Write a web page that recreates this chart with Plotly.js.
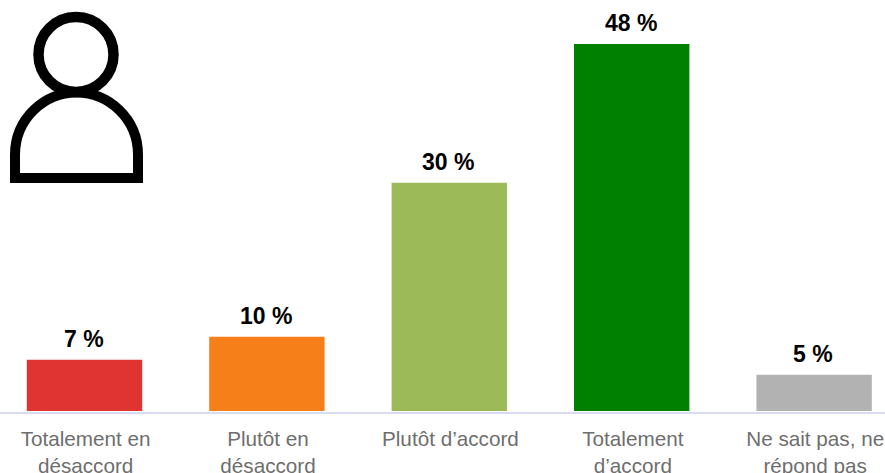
<!DOCTYPE html>
<html><head><meta charset="utf-8">
<script src="https://cdn.plot.ly/plotly-3.0.1.min.js"></script>
<style>html,body{margin:0;padding:0;background:#fff;overflow:hidden}#c{width:885px;height:473px}</style>
</head><body><div id="c"></div>
<script>
const categories = ["Totalement en<br>désaccord","Plutôt en<br>désaccord","Plutôt d’accord","Totalement<br>d’accord","Ne sait pas, ne<br>répond pas"];
const positions = [0,1,2,3,4];
const values = [6.93, 9.93, 30, 48.1, 5];
const labels = ["7 %","10 %","30 %","48 %","5 %"];
const colors = ["#e03433","#f77f19","#9dba58","#008000","#b2b2b2"];
const FONT = "Liberation Sans, Arial, sans-serif";
const px = v => v/885, py = v => 1-v/412;
Plotly.newPlot("c",[{
  type:"bar", x:positions, y:values, width:0.6436, cliponaxis:false,
  marker:{color:colors,line:{color:"#ffffff",width:2}},
  hoverinfo:"skip"
}],{
  width:885,height:473,
  margin:{l:0,r:0,t:0,b:61,pad:0},
  paper_bgcolor:"#fff",plot_bgcolor:"#fff",
  showlegend:false,
  xaxis:{type:"linear",range:[-0.4633,4.3887],tickmode:"array",tickvals:positions.map(p=>p+0.006),ticktext:categories,
    showgrid:false,zeroline:false,showline:true,linecolor:"#d9dcf0",linewidth:2,layer:"below traces",
    ticks:"",ticklabelstandoff:7,tickangle:0,tickfont:{family:FONT,size:20.7,color:"#6e6e6e"}},
  yaxis:{range:[0,53.7],visible:false,fixedrange:true},
  annotations:positions.map((p,i)=>({x:p,y:values[i],xref:"x",yref:"y",text:labels[i],showarrow:false,
    xanchor:"center",yanchor:"bottom",yshift:5,xshift:-1,font:{family:FONT,size:23,color:"#000",weight:700}})),
  shapes:[
    {type:"circle",xref:"paper",yref:"paper",x0:px(38.5),x1:px(113.5),y0:py(92),y1:py(17),
     line:{color:"#000",width:10.5},fillcolor:"rgba(0,0,0,0)",layer:"above"},
    {type:"path",xref:"paper",yref:"paper",
     path:`M ${px(15)} ${py(178)} L ${px(138)} ${py(178)} L ${px(138)} ${py(155)} C ${px(138)} ${py(118)} ${px(108)} ${py(92.5)} ${px(76.5)} ${py(92.5)} C ${px(45)} ${py(92.5)} ${px(15)} ${py(118)} ${px(15)} ${py(155)} Z`,
     line:{color:"#000",width:10},fillcolor:"rgba(0,0,0,0)",layer:"above"}
  ]
},{staticPlot:true,displayModeBar:false});
</script></body></html>
